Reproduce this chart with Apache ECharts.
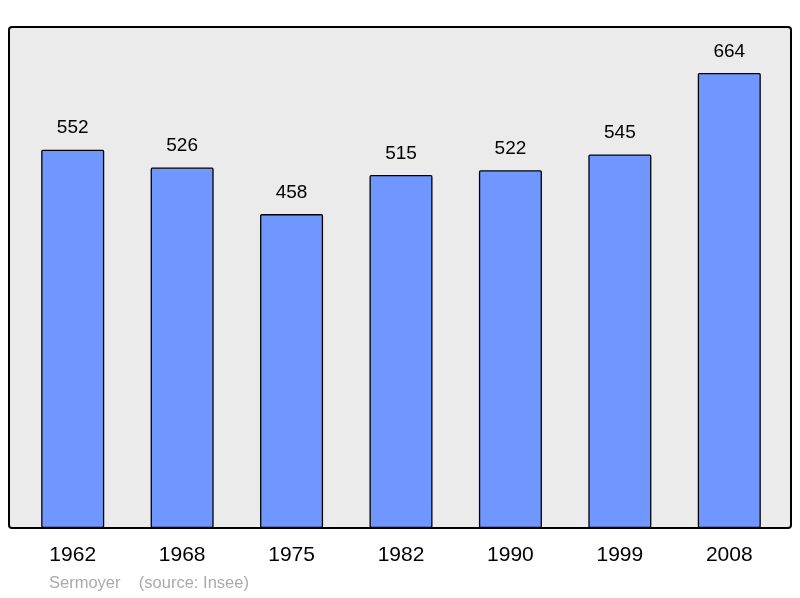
<!DOCTYPE html>
<html>
<head>
<meta charset="utf-8">
<script src="https://cdn.jsdelivr.net/npm/echarts@6/dist/echarts.min.js"></script>
<style>html,body{margin:0;padding:0;background:#fff;}#main{width:800px;height:598px;}</style>
</head>
<body>
<div id="main"></div>
<script>
// 年份和人口
var years = ['1962', '1968', '1975', '1982', '1990', '1999', '2008'];
var population = [552, 526, 458, 515, 522, 545, 664];

var chart = echarts.init(document.getElementById('main'));
var option = {
    animation: false,
    textStyle: {fontFamily: 'Liberation Sans'},
    grid: {left: 18, right: 16, top: 27, bottom: 70},
    xAxis: {
        type: 'category',
        data: years,
        axisLine: {show: false},
        axisTick: {show: false},
        axisLabel: {color: '#000', fontSize: 21, margin: 17}
    },
    yAxis: {
        type: 'value',
        min: 0,
        max: 731,
        show: false,
        splitLine: {show: false}
    },
    series: [{
        type: 'bar',
        data: population,
        barWidth: '57.6%',
        itemStyle: {color: '#7096ff', borderColor: '#000', borderWidth: 1.3, borderRadius: 1},
        label: {show: true, position: 'top', distance: 12, color: '#000', fontSize: 19}
    }],
    graphic: [{
        type: 'rect', z: -10,
        shape: {x: 9, y: 27, width: 782, height: 501, r: 3},
        style: {fill: '#ebebeb', stroke: '#000', lineWidth: 2}
    }, {
        type: 'text',
        left: 49, top: 575,
        style: {text: 'Sermoyer    (source: Insee)', fill: '#aaaaaa', fontSize: 16.5, fontFamily: 'Liberation Sans'}
    }]
};
chart.setOption(option);
</script>
</body>
</html>
